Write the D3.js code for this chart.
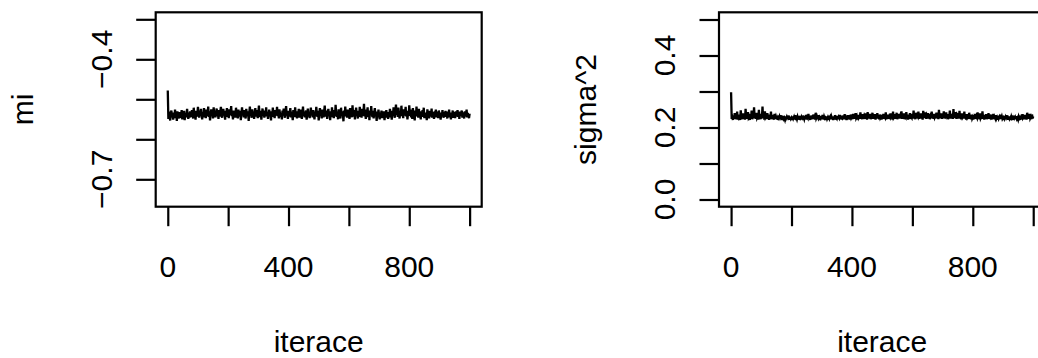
<!DOCTYPE html>
<html lang="cs">
<head>
<meta charset="utf-8">
<style>
  body { margin: 0; background: #fff; }
  svg text { font-family: "Liberation Sans", Arial, sans-serif; font-size: 30px; fill: #000; }
  .frame { fill: none; stroke: #000; stroke-width: 2.2; }
  .axis path { display: none; }
  .axis line { stroke: #000; stroke-width: 2.2; }
  .trace { fill: none; stroke: #000; stroke-width: 2.3; stroke-linejoin: miter; }
</style>
</head>
<body>
<div id="chart"></div>
<script src="https://d3js.org/d3.v7.min.js"></script>
<script>
// chain values kept at every 2nd iteration, 0..1000
var step = 2;

var miValues = [
  -0.478, -0.549, -0.531, -0.542, -0.553, -0.536, -0.528, -0.545, -0.539, -0.551, -0.533, -0.547, -0.526, -0.541, -0.535, -0.554, -0.530, -0.544, -0.538, -0.548,
  -0.532, -0.546, -0.540, -0.527, -0.550, -0.537, -0.543, -0.529, -0.552, -0.534, -0.545, -0.538, -0.524, -0.541, -0.549, -0.533, -0.546, -0.530, -0.539, -0.544,
  -0.527, -0.536, -0.548, -0.521, -0.540, -0.533, -0.551, -0.529, -0.543, -0.537, -0.519, -0.535, -0.546, -0.528, -0.541, -0.524, -0.539, -0.550, -0.532, -0.545,
  -0.522, -0.538, -0.531, -0.547, -0.526, -0.542, -0.535, -0.518, -0.544, -0.530, -0.553, -0.537, -0.525, -0.541, -0.533, -0.548, -0.520, -0.539, -0.528, -0.545,
  -0.534, -0.523, -0.541, -0.536, -0.549, -0.527, -0.543, -0.531, -0.519, -0.538, -0.546, -0.532, -0.524, -0.540, -0.535, -0.551, -0.529, -0.537, -0.522, -0.544,
  -0.530, -0.547, -0.525, -0.539, -0.533, -0.517, -0.542, -0.536, -0.550, -0.528, -0.541, -0.534, -0.546, -0.521, -0.538, -0.531, -0.548, -0.526, -0.543, -0.537,
  -0.529, -0.552, -0.535, -0.520, -0.540, -0.532, -0.545, -0.527, -0.539, -0.548, -0.524, -0.536, -0.542, -0.530, -0.554, -0.533, -0.518, -0.541, -0.537, -0.546,
  -0.525, -0.540, -0.531, -0.549, -0.535, -0.522, -0.543, -0.538, -0.527, -0.547, -0.533, -0.516, -0.539, -0.544, -0.529, -0.551, -0.536, -0.523, -0.541, -0.534,
  -0.546, -0.528, -0.538, -0.520, -0.543, -0.532, -0.549, -0.537, -0.526, -0.541, -0.535, -0.553, -0.530, -0.544, -0.521, -0.539, -0.533, -0.547, -0.527, -0.540,
  -0.536, -0.519, -0.542, -0.531, -0.548, -0.525, -0.538, -0.544, -0.534, -0.550, -0.528, -0.541, -0.523, -0.537, -0.546, -0.532, -0.517, -0.540, -0.535, -0.549,
  -0.529, -0.543, -0.536, -0.522, -0.545, -0.531, -0.539, -0.552, -0.527, -0.538, -0.544, -0.520, -0.541, -0.534, -0.548, -0.530, -0.537, -0.524, -0.546, -0.533,
  -0.540, -0.526, -0.549, -0.535, -0.518, -0.542, -0.531, -0.545, -0.537, -0.528, -0.551, -0.539, -0.523, -0.543, -0.532, -0.547, -0.536, -0.521, -0.540, -0.534,
  -0.545, -0.527, -0.538, -0.550, -0.531, -0.542, -0.519, -0.536, -0.544, -0.529, -0.553, -0.535, -0.522, -0.541, -0.533, -0.548, -0.526, -0.539, -0.545, -0.530,
  -0.516, -0.537, -0.543, -0.528, -0.549, -0.534, -0.524, -0.541, -0.536, -0.552, -0.530, -0.545, -0.520, -0.538, -0.533, -0.547, -0.527, -0.542, -0.514, -0.536,
  -0.544, -0.531, -0.550, -0.525, -0.539, -0.535, -0.548, -0.521, -0.542, -0.530, -0.537, -0.555, -0.528, -0.543, -0.518, -0.540, -0.533, -0.546, -0.526, -0.539,
  -0.535, -0.549, -0.522, -0.541, -0.530, -0.545, -0.515, -0.537, -0.543, -0.527, -0.550, -0.534, -0.521, -0.540, -0.536, -0.548, -0.529, -0.544, -0.519, -0.538,
  -0.532, -0.546, -0.524, -0.541, -0.535, -0.511, -0.543, -0.530, -0.549, -0.526, -0.538, -0.520, -0.545, -0.533, -0.552, -0.528, -0.540, -0.517, -0.537, -0.544,
  -0.529, -0.548, -0.534, -0.522, -0.542, -0.537, -0.554, -0.531, -0.545, -0.526, -0.539, -0.550, -0.533, -0.544, -0.528, -0.547, -0.536, -0.541, -0.530, -0.552,
  -0.535, -0.546, -0.527, -0.543, -0.538, -0.549, -0.532, -0.540, -0.524, -0.545, -0.534, -0.551, -0.529, -0.542, -0.520, -0.537, -0.546, -0.531, -0.513, -0.539,
  -0.527, -0.544, -0.521, -0.536, -0.548, -0.530, -0.542, -0.516, -0.538, -0.533, -0.547, -0.525, -0.540, -0.535, -0.519, -0.543, -0.529, -0.550, -0.534, -0.541,
  -0.515, -0.537, -0.526, -0.545, -0.531, -0.549, -0.522, -0.540, -0.536, -0.553, -0.528, -0.543, -0.518, -0.538, -0.532, -0.546, -0.524, -0.541, -0.535, -0.550,
  -0.530, -0.544, -0.527, -0.539, -0.521, -0.547, -0.533, -0.542, -0.536, -0.552, -0.525, -0.540, -0.534, -0.548, -0.529, -0.537, -0.543, -0.523, -0.546, -0.532,
  -0.538, -0.549, -0.530, -0.541, -0.526, -0.545, -0.535, -0.531, -0.547, -0.528, -0.540, -0.536, -0.551, -0.533, -0.543, -0.527, -0.539, -0.546, -0.532, -0.542,
  -0.529, -0.544, -0.537, -0.548, -0.531, -0.540, -0.526, -0.545, -0.535, -0.550, -0.533, -0.541, -0.528, -0.546, -0.538, -0.532, -0.547, -0.530, -0.543, -0.536,
  -0.527, -0.544, -0.539, -0.549, -0.531, -0.542, -0.535, -0.528, -0.546, -0.533, -0.540, -0.548, -0.530, -0.543, -0.537, -0.526, -0.545, -0.534, -0.541, -0.547,
  -0.536
];

var sigma2Values = [
  0.298, 0.224, 0.229, 0.221, 0.233, 0.226, 0.240, 0.223, 0.231, 0.225, 0.244, 0.222, 0.236, 0.227, 0.230, 0.221, 0.248, 0.226, 0.234, 0.223,
  0.239, 0.225, 0.231, 0.222, 0.252, 0.228, 0.235, 0.224, 0.243, 0.227, 0.230, 0.221, 0.237, 0.226, 0.247, 0.223, 0.233, 0.225, 0.256, 0.229,
  0.236, 0.224, 0.241, 0.227, 0.231, 0.222, 0.249, 0.226, 0.234, 0.223, 0.238, 0.228, 0.258, 0.225, 0.233, 0.222, 0.245, 0.227, 0.230, 0.224,
  0.240, 0.226, 0.232, 0.221, 0.236, 0.225, 0.244, 0.223, 0.229, 0.227, 0.235, 0.222, 0.238, 0.226, 0.231, 0.224, 0.233, 0.221, 0.228, 0.225,
  0.230, 0.223, 0.234, 0.226, 0.228, 0.221, 0.232, 0.224, 0.227, 0.222, 0.231, 0.225, 0.229, 0.223, 0.233, 0.226, 0.228, 0.222, 0.230, 0.224,
  0.227, 0.221, 0.231, 0.225, 0.229, 0.222, 0.234, 0.226, 0.228, 0.223, 0.230, 0.224, 0.232, 0.221, 0.227, 0.225, 0.229, 0.222, 0.233, 0.226,
  0.228, 0.223, 0.231, 0.224, 0.235, 0.222, 0.229, 0.226, 0.238, 0.224, 0.230, 0.221, 0.233, 0.227, 0.229, 0.223, 0.236, 0.225, 0.231, 0.222,
  0.241, 0.226, 0.230, 0.223, 0.234, 0.225, 0.228, 0.221, 0.232, 0.226, 0.229, 0.224, 0.235, 0.222, 0.230, 0.225, 0.227, 0.221, 0.231, 0.224,
  0.228, 0.222, 0.233, 0.225, 0.229, 0.223, 0.231, 0.226, 0.227, 0.221, 0.230, 0.224, 0.234, 0.222, 0.228, 0.225, 0.232, 0.223, 0.229, 0.226,
  0.235, 0.224, 0.230, 0.222, 0.233, 0.226, 0.228, 0.223, 0.237, 0.225, 0.231, 0.221, 0.229, 0.227, 0.234, 0.224, 0.230, 0.222, 0.236, 0.226,
  0.229, 0.223, 0.238, 0.225, 0.232, 0.224, 0.240, 0.227, 0.231, 0.222, 0.235, 0.226, 0.229, 0.224, 0.242, 0.228, 0.233, 0.223, 0.237, 0.225,
  0.231, 0.224, 0.239, 0.227, 0.234, 0.222, 0.243, 0.226, 0.230, 0.225, 0.238, 0.223, 0.235, 0.228, 0.241, 0.224, 0.232, 0.226, 0.237, 0.222,
  0.233, 0.227, 0.240, 0.225, 0.231, 0.223, 0.236, 0.226, 0.229, 0.222, 0.234, 0.225, 0.238, 0.224, 0.230, 0.227, 0.242, 0.223, 0.232, 0.226,
  0.236, 0.224, 0.231, 0.228, 0.239, 0.225, 0.233, 0.222, 0.244, 0.227, 0.230, 0.224, 0.237, 0.226, 0.241, 0.223, 0.234, 0.228, 0.238, 0.225,
  0.232, 0.226, 0.245, 0.224, 0.235, 0.227, 0.239, 0.223, 0.231, 0.228, 0.243, 0.225, 0.236, 0.222, 0.233, 0.226, 0.240, 0.224, 0.230, 0.227,
  0.238, 0.225, 0.247, 0.228, 0.234, 0.223, 0.241, 0.226, 0.232, 0.229, 0.244, 0.224, 0.236, 0.227, 0.239, 0.225, 0.231, 0.222, 0.246, 0.228,
  0.235, 0.226, 0.242, 0.224, 0.233, 0.228, 0.240, 0.225, 0.237, 0.223, 0.231, 0.227, 0.244, 0.226, 0.234, 0.224, 0.238, 0.228, 0.232, 0.225,
  0.241, 0.227, 0.236, 0.223, 0.249, 0.226, 0.233, 0.228, 0.239, 0.224, 0.235, 0.227, 0.245, 0.225, 0.231, 0.229, 0.242, 0.226, 0.237, 0.223,
  0.234, 0.228, 0.247, 0.225, 0.238, 0.227, 0.232, 0.224, 0.251, 0.229, 0.236, 0.226, 0.243, 0.224, 0.233, 0.228, 0.240, 0.225, 0.246, 0.227,
  0.235, 0.223, 0.239, 0.228, 0.231, 0.225, 0.244, 0.226, 0.233, 0.222, 0.237, 0.227, 0.230, 0.224, 0.241, 0.226, 0.232, 0.223, 0.236, 0.225,
  0.229, 0.222, 0.234, 0.226, 0.238, 0.224, 0.231, 0.227, 0.242, 0.225, 0.233, 0.223, 0.239, 0.226, 0.230, 0.224, 0.245, 0.227, 0.235, 0.222,
  0.231, 0.225, 0.237, 0.223, 0.233, 0.226, 0.240, 0.224, 0.229, 0.227, 0.236, 0.222, 0.232, 0.225, 0.238, 0.223, 0.230, 0.226, 0.234, 0.224,
  0.228, 0.222, 0.233, 0.225, 0.229, 0.223, 0.236, 0.226, 0.231, 0.224, 0.227, 0.221, 0.232, 0.225, 0.229, 0.223, 0.234, 0.226, 0.228, 0.222,
  0.231, 0.224, 0.227, 0.221, 0.230, 0.225, 0.228, 0.222, 0.233, 0.226, 0.229, 0.223, 0.231, 0.224, 0.227, 0.222, 0.230, 0.225, 0.228, 0.221,
  0.232, 0.224, 0.237, 0.226, 0.229, 0.223, 0.235, 0.225, 0.231, 0.222, 0.241, 0.227, 0.233, 0.224, 0.238, 0.226, 0.230, 0.223, 0.236, 0.225,
  0.231
];

var xTicks = [0, 200, 400, 600, 800, 1000];
var xLabels = ["0", "", "400", "", "800", ""];

var miTicks = [-0.3, -0.4, -0.5, -0.6, -0.7];
var miLabels = ["", "\u22120.4", "", "", "\u22120.7"];

var sigTicks = [0.0, 0.1, 0.2, 0.3, 0.4, 0.5];
var sigLabels = ["0.0", "", "0.2", "", "0.4", ""];

var W = 1038, H = 358;
var svg = d3.select("#chart").append("svg")
    .attr("width", W)
    .attr("height", H);

function panel(opts) {
  var x = d3.scaleLinear().domain([-40, 1040]).range([opts.left, opts.right]);
  var y = d3.scaleLinear().domain(opts.yDomain).range([206.7, 12.3]);
  var g = svg.append("g");

  // trace
  var line = d3.line()
    .x(function (d, i) { return x(i * step); })
    .y(function (d) { return y(d); });
  g.append("path")
    .datum(opts.values)
    .attr("class", "trace")
    .attr("d", line);

  // box
  g.append("rect")
    .attr("class", "frame")
    .attr("x", opts.left)
    .attr("y", 12.3)
    .attr("width", opts.right - opts.left)
    .attr("height", 206.7 - 12.3);

  // x axis ticks
  g.append("g")
    .attr("class", "axis")
    .attr("transform", "translate(0,206.7)")
    .call(d3.axisBottom(x).tickValues(xTicks).tickSize(19.5).tickFormat(""));
  g.selectAll(".xlab")
    .data(xTicks)
    .enter().append("text")
    .attr("x", function (d) { return x(d); })
    .attr("y", 277)
    .attr("text-anchor", "middle")
    .text(function (d, i) { return xLabels[i]; });

  // y axis ticks
  g.append("g")
    .attr("class", "axis")
    .attr("transform", "translate(" + opts.left + ",0)")
    .call(d3.axisLeft(y).tickValues(opts.yTicks).tickSize(19.5).tickFormat(""));
  g.selectAll(".ylab")
    .data(opts.yTicks)
    .enter().append("text")
    .attr("transform", function (d) {
      return "translate(" + (opts.left - 44) + "," + y(d) + ") rotate(-90)";
    })
    .attr("text-anchor", "middle")
    .text(function (d, i) { return opts.yLabels[i]; });

  // titles
  g.append("text")
    .attr("x", (opts.left + opts.right) / 2)
    .attr("y", 352)
    .attr("text-anchor", "middle")
    .text("iterace");
  g.append("text")
    .attr("transform", "translate(" + (opts.left - 122.7) + "," + ((12.3 + 206.7) / 2) + ") rotate(-90)")
    .attr("text-anchor", "middle")
    .text(opts.title);
}

panel({
  left: 155.7, right: 481.7,
  yDomain: [-0.7685, -0.2825],
  yTicks: miTicks, yLabels: miLabels,
  values: miValues, title: "mi"
});

panel({
  left: 719, right: 1045.3,
  yDomain: [-0.02, 0.52],
  yTicks: sigTicks, yLabels: sigLabels,
  values: sigma2Values, title: "sigma^2"
});
</script>
</body>
</html>
